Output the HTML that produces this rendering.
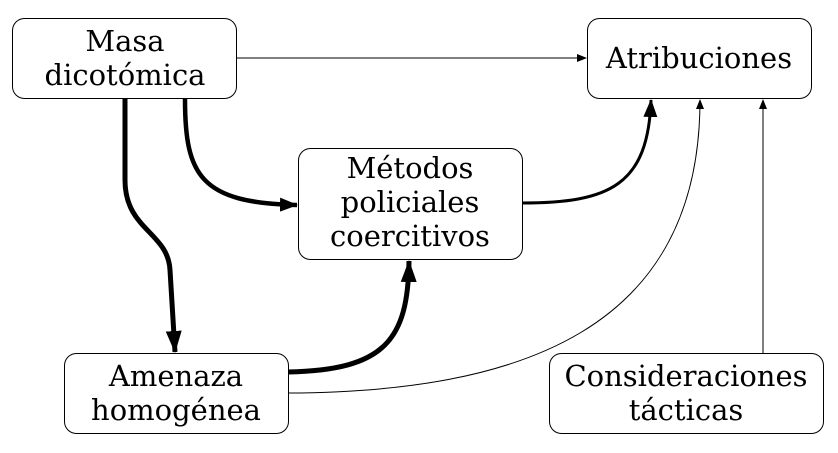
<!DOCTYPE html>
<html><head><meta charset="utf-8"><style>
body{margin:0;background:#fff;width:838px;height:448px;overflow:hidden}
text{font-family:"DejaVu Serif","Liberation Serif",serif;font-size:29px;fill:#000}
</style></head><body>
<svg width="838" height="448" viewBox="0 0 838 448" xmlns="http://www.w3.org/2000/svg">
<defs>
<marker id="a" markerWidth="10" markerHeight="8" refX="9" refY="4" orient="auto" markerUnits="userSpaceOnUse"><path d="M0,0 L10,4 L0,8z"/></marker>
<marker id="b" markerWidth="18" markerHeight="14" refX="17" refY="7" orient="auto" markerUnits="userSpaceOnUse"><path d="M0,0 L18,7 L0,14z"/></marker>
<marker id="c" markerWidth="22" markerHeight="16" refX="21" refY="8" orient="auto" markerUnits="userSpaceOnUse"><path d="M0,0 L22,8 L0,16z"/></marker>
</defs>
<g fill="none" stroke="#000">
<path d="M237,58 L586,58" stroke-width="1" marker-end="url(#a)"/>
<path d="M763,353 L763,100" stroke-width="1" marker-end="url(#a)"/>
<path d="M288,393 C520,392 700,330 700,100" stroke-width="1" marker-end="url(#a)"/>
<path d="M522,203 C610,203 648,185 651,100" stroke-width="3" marker-end="url(#b)"/>
<path d="M185,99 C185,175 200,203 297,205" stroke-width="4.5" marker-end="url(#b)"/>
<path d="M125,99 L125,180 C125,230 168,232 170,270 L175,352" stroke-width="5" marker-end="url(#c)"/>
<path d="M288,372 C385,370 408,340 409,261" stroke-width="5" marker-end="url(#c)"/>
</g>
<g fill="#fff" stroke="#000" stroke-width="1">
<rect x="12.5" y="18.5" width="224" height="80" rx="12"/>
<rect x="587.5" y="18.5" width="224" height="80" rx="12"/>
<rect x="298.5" y="148.5" width="224" height="111" rx="12"/>
<rect x="64.5" y="353.5" width="224" height="80" rx="12"/>
<rect x="549.5" y="353.5" width="274" height="80" rx="12"/>
</g>
<g text-anchor="middle">
<text x="125" y="51">Masa</text><text x="125" y="85">dicotómica</text>
<text x="699" y="68">Atribuciones</text>
<text x="410" y="178">Métodos</text><text x="410" y="212">policiales</text><text x="410" y="246">coercitivos</text>
<text x="176" y="386">Amenaza</text><text x="176" y="420">homogénea</text>
<text x="686" y="386">Consideraciones</text><text x="686" y="420">tácticas</text>
</g>
</svg>
</body></html>
